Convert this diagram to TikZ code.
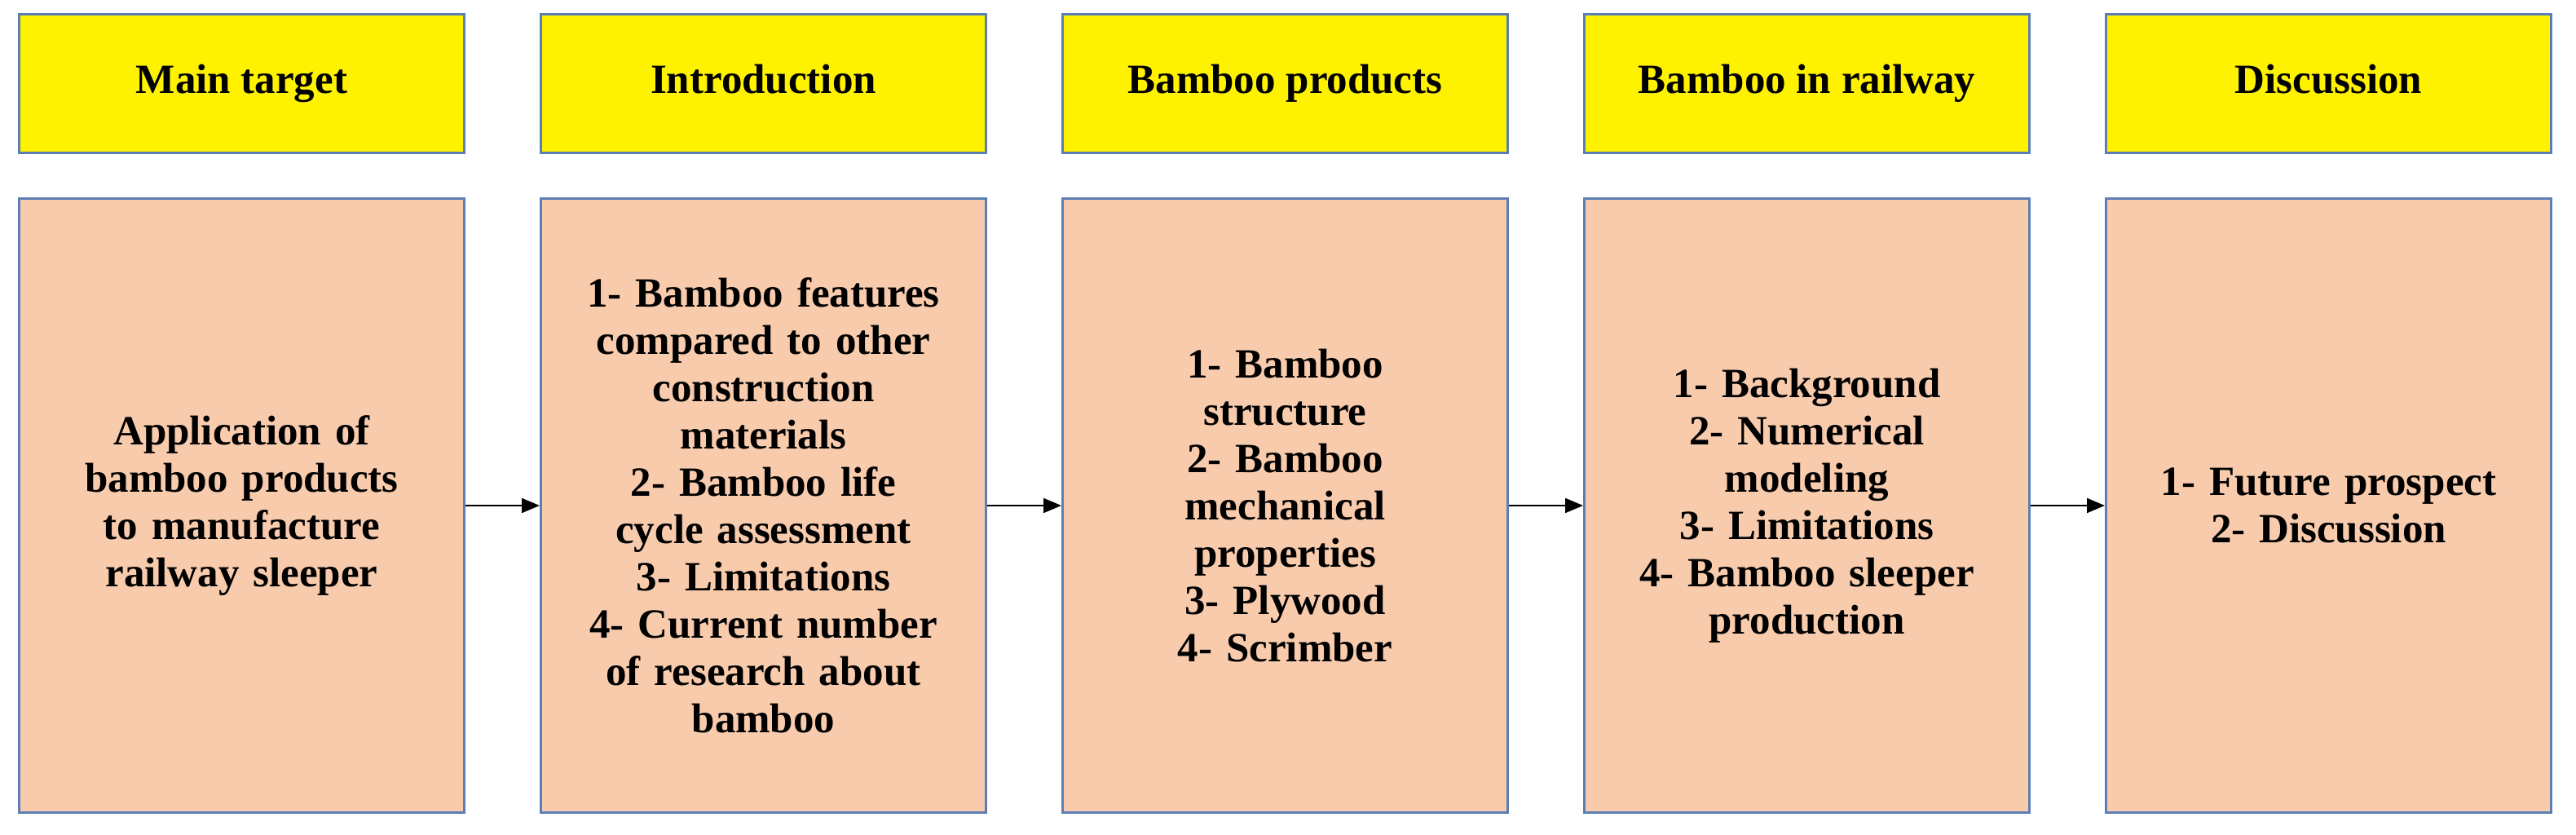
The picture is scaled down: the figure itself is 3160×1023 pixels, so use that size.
\documentclass[tikz,border=0pt]{standalone}
\usepackage{fontspec}
\setmainfont{Liberation Serif}
\usetikzlibrary{arrows.meta}
\definecolor{bd}{HTML}{5B7FB5}
\definecolor{sal}{HTML}{F8CBAD}
\tikzset{
 box/.style={draw=bd,line width=3pt,minimum width=546pt,anchor=north west,inner sep=0pt,align=center,font=\fontsize{51}{58}\selectfont\bfseries},
 head/.style={box,fill=yellow,minimum height=170pt,text height=36pt,text depth=12pt},
 body/.style={box,fill=sal,minimum height=753pt,text width=540pt},
 arr/.style={-{Triangle[length=22pt,width=18pt]},line width=2pt}
}
\begin{document}
\begin{tikzpicture}[x=1pt,y=-1pt]
\useasboundingbox (0,0) rectangle (3160,1023);
\foreach \i/\t in {0/Main target,1/Introduction,2/Bamboo products,3/Bamboo in railway,4/Discussion}
  \node[head] (h\i) at (22+640*\i,16) {\t};
\node[body] (b0) at (22,242) {Application of\\bamboo products\\to manufacture\\railway sleeper};
\node[body] (b1) at (662,242) {1- Bamboo features\\compared to other\\construction\\materials\\2- Bamboo life\\cycle assessment\\3- Limitations\\4- Current number\\of research about\\bamboo};
\node[body] (b2) at (1302,242) {1- Bamboo\\structure\\2- Bamboo\\mechanical\\properties\\3- Plywood\\4- Scrimber};
\node[body] (b3) at (1942,242) {1- Background\\2- Numerical\\modeling\\3- Limitations\\4- Bamboo sleeper\\production};
\node[body] (b4) at (2582,242) {1- Future prospect\\2- Discussion};
\foreach \a/\b in {0/1,1/2,2/3,3/4}
  \draw[arr] (b\a.east) -- (b\b.west);
\end{tikzpicture}
\end{document}
